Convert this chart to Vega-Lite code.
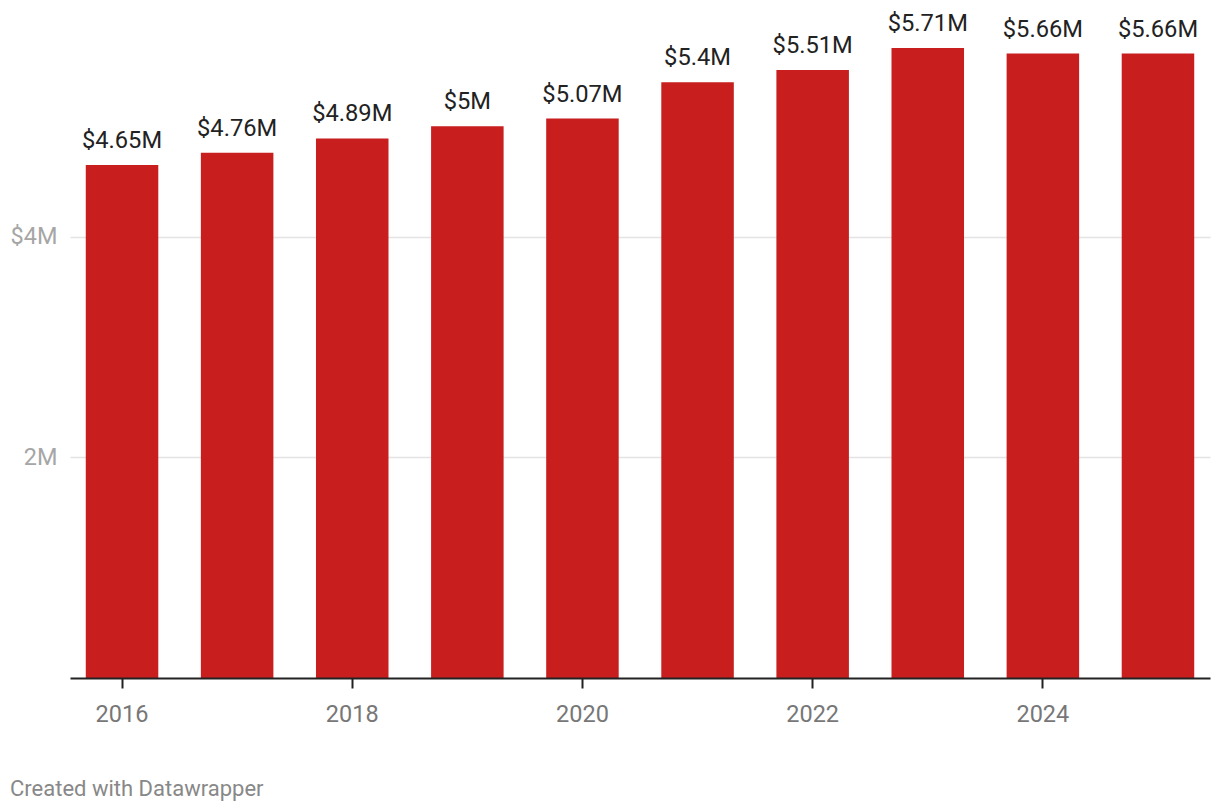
{
  "$schema": "https://vega.github.io/schema/vega-lite/v6.json",
  "width": 1140,
  "height": 662,
  "autosize": {"type": "none"},
  "padding": {"left": 70, "top": 16, "right": 10, "bottom": 132},
  "background": "white",
  "config": {
    "view": {"stroke": null},
    "font": "Roboto"
  },
  "title": {
    "text": "Created with Datawrapper",
    "orient": "bottom",
    "anchor": "start",
    "frame": "group",
    "dx": -60,
    "offset": 53,
    "fontSize": 22,
    "fontWeight": "normal",
    "color": "#888888",
    "font": "Roboto"
  },
  "data": {
    "values": [
      {"year": 2016, "value": 4650000, "label": "$4.65M"},
      {"year": 2017, "value": 4760000, "label": "$4.76M"},
      {"year": 2018, "value": 4890000, "label": "$4.89M"},
      {"year": 2019, "value": 5000000, "label": "$5M"},
      {"year": 2020, "value": 5070000, "label": "$5.07M"},
      {"year": 2021, "value": 5400000, "label": "$5.4M"},
      {"year": 2022, "value": 5510000, "label": "$5.51M"},
      {"year": 2023, "value": 5710000, "label": "$5.71M"},
      {"year": 2024, "value": 5660000, "label": "$5.66M"},
      {"year": 2025, "value": 5660000, "label": "$5.66M"}
    ]
  },
  "encoding": {
    "x": {
      "field": "year",
      "type": "ordinal",
      "scale": {"paddingInner": 0.37, "paddingOuter": 0.137},
      "axis": {
        "title": null,
        "values": [2016, 2018, 2020, 2022, 2024],
        "labelAngle": 0,
        "labelFontSize": 23.5,
        "labelColor": "#777777",
        "labelPadding": 14,
        "domainColor": "#222222",
        "domainWidth": 2,
        "tickColor": "#222222",
        "tickWidth": 2,
        "tickSize": 10,
        "grid": false,
        "zindex": 1
      }
    },
    "y": {
      "field": "value",
      "type": "quantitative",
      "scale": {"domain": [0, 6000000], "nice": false},
      "axis": {
        "title": null,
        "values": [2000000, 4000000],
        "labelExpr": "datum.value == 4000000 ? '$4M' : '2M'",
        "labelFontSize": 23.5,
        "labelColor": "#a6a6a6",
        "labelPadding": 13,
        "domain": false,
        "ticks": false,
        "grid": true,
        "gridColor": "#e3e3e3",
        "gridWidth": 1.5
      }
    }
  },
  "layer": [
    {
      "mark": {"type": "bar", "color": "#c81e1e"}
    },
    {
      "mark": {"type": "text", "baseline": "alphabetic", "dy": -17, "fontSize": 23.7, "color": "#222222", "font": "Roboto"},
      "encoding": {"text": {"field": "label"}}
    }
  ]
}
